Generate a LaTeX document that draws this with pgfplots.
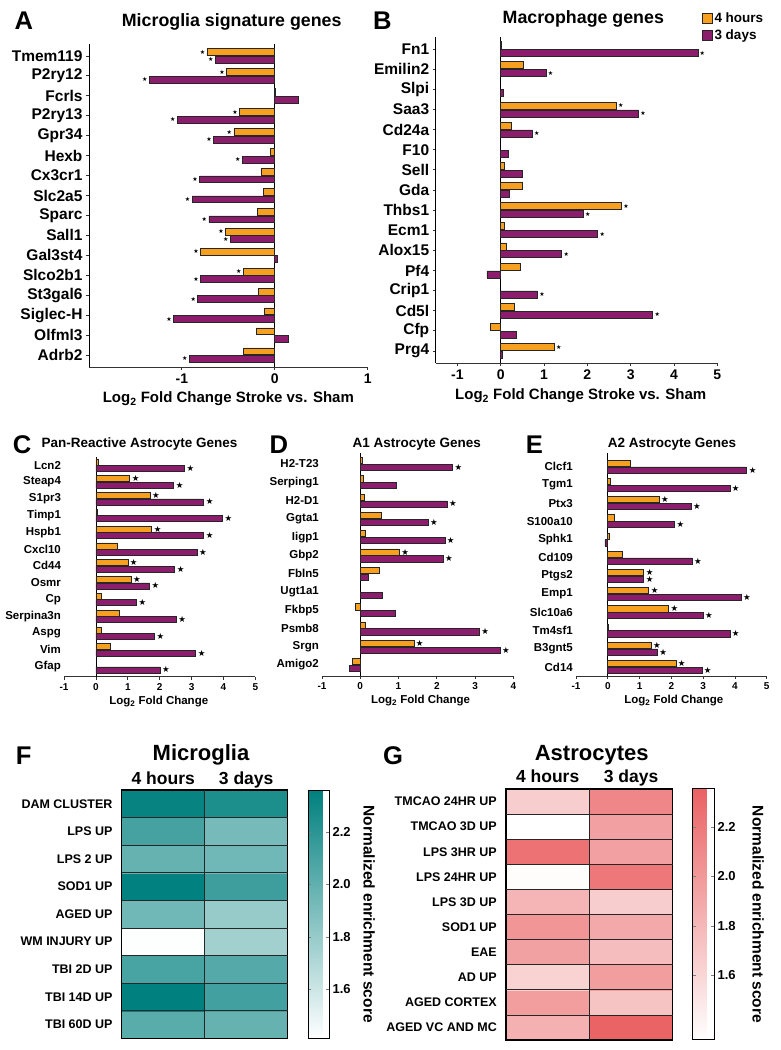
\documentclass[border=0pt]{standalone}
\usepackage{pgfplots}
\pgfplotsset{compat=1.18}
\usepackage{pgfplotstable}
\usepackage{fontspec}
\setmainfont{Liberation Sans}
\newfontfamily\dejavu{DejaVu Sans}
\definecolor{orng}{RGB}{247,160,32}
\definecolor{purp}{RGB}{140,28,108}
\newcommand{\fz}[1]{\fontsize{#1}{#1}\selectfont\bfseries}

% Panel A: Microglia signature genes (s = significance star)
\pgfplotstableread{
idx h4 d3 s4 s3
15 -0.73 -0.64 ★ ★
14 -0.52 -1.35 ★ ★
13 0.01 0.25 {} {}
12 -0.38 -1.05 ★ ★
11 -0.44 -0.66 ★ ★
10 -0.05 -0.35 {} ★
9 -0.15 -0.81 {} ★
8 -0.12 -0.89 {} ★
7 -0.19 -0.71 {} ★
6 -0.53 -0.48 ★ ★
5 -0.80 0.03 ★ {}
4 -0.34 -0.80 ★ ★
3 -0.18 -0.83 {} ★
2 -0.11 -1.09 {} ★
1 -0.20 0.14 {} {}
0 -0.34 -0.92 {} ★
}\tabA
% Panel B: Macrophage genes
\pgfplotstableread{
idx h4 d3 s4 s3
15 0.02 4.55 {} ★
14 0.53 1.05 {} ★
13 nan 0.05 {} {}
12 2.67 3.18 ★ ★
11 0.25 0.73 {} ★
10 nan 0.18 {} {}
9 0.08 0.50 {} {}
8 0.49 0.21 {} {}
7 2.79 1.91 ★ ★
6 0.09 2.24 {} ★
5 0.13 1.41 {} ★
4 0.46 -0.32 {} {}
3 nan 0.85 {} ★
2 0.32 3.51 {} ★
1 -0.23 0.35 {} {}
0 1.24 0.04 ★ {}
}\tabB
% Panel C: Pan-reactive astrocyte genes
\pgfplotstableread{
idx h4 d3 s4 s3
12 0.08 2.78 {} ★
11 1.06 2.44 ★ ★
10 1.70 3.38 ★ ★
9 0.04 3.97 {} ★
8 1.75 3.38 ★ ★
7 0.67 3.17 {} ★
6 1.00 2.47 ★ ★
5 1.10 1.68 ★ ★
4 0.17 1.27 {} ★
3 0.74 2.52 {} ★
2 0.16 1.84 {} ★
1 0.45 3.13 {} ★
0 nan 2.01 {} ★
}\tabC
% Panel D: A1 astrocyte genes
\pgfplotstableread{
idx h4 d3 s4 s3
11 0.06 2.41 {} ★
10 0.09 0.95 {} {}
9 0.10 2.27 {} ★
8 0.56 1.77 {} ★
7 0.12 2.21 {} ★
6 1.02 2.16 ★ ★
5 0.51 0.22 {} {}
4 nan 0.58 {} {}
3 -0.13 0.92 {} {}
2 0.12 3.11 {} ★
1 1.40 3.65 ★ ★
0 -0.20 -0.28 {} {}
}\tabD
% Panel E: A2 astrocyte genes
\pgfplotstableread{
idx h4 d3 s4 s3
11 0.72 4.37 {} ★
10 0.07 3.84 {} ★
9 1.61 2.62 ★ ★
8 0.22 2.10 {} ★
7 0.05 -0.09 {} {}
6 0.46 2.65 {} ★
5 1.13 1.13 ★ ★
4 1.29 4.19 ★ ★
3 1.91 3.00 ★ ★
2 0.03 3.84 {} ★
1 1.36 1.56 ★ ★
0 2.14 2.96 ★ ★
}\tabE
% Panel F: Microglia NES
\pgfplotstableread{
x y v
0 0 2.03
1 0 1.98
0 1 2.36
1 1 2.11
0 2 2.09
1 2 2.04
0 3 1.42
1 3 1.76
0 4 1.94
1 4 1.80
0 5 2.35
1 5 2.13
0 6 1.98
1 6 1.94
0 7 2.10
1 7 1.92
0 8 2.33
1 8 2.25
}\tabF
% Panel G: Astrocytes NES
\pgfplotstableread{
x y v
0 0 1.84
1 0 2.34
0 1 1.96
1 1 1.72
0 2 1.63
1 2 1.97
0 3 1.94
1 3 1.76
0 4 2.02
1 4 1.89
0 5 1.82
1 5 1.66
0 6 1.36
1 6 2.21
0 7 2.24
1 7 1.95
0 8 1.34
1 8 1.95
0 9 1.66
1 9 2.11
}\tabG

\pgfplotsset{
  /pgf/number format/assume math mode=true,
  barpanel/.style={
    scale only axis, anchor=south west, xbar, clip=false,
    axis x line*=bottom, axis y line*=left,
    axis line style={black!80, line width=0.8pt},
    every tick/.style={black!80, line width=0.8pt},
    tick align=outside, major tick length=3pt,
    unbounded coords=discard,
    extra x tick labels={},
    extra x tick style={grid=major, major grid style={black, line width=0.9pt}, major tick length=0pt},
  },
  h4/.style={fill=orng, draw=black!85, line width=0.6pt, bar shift=#1},
  d3/.style={fill=purp, draw=black!85, line width=0.6pt, bar shift=#1},
  starR/.style={point meta=explicit symbolic, nodes near coords,
     every node near coord/.append style={anchor=west}},
  starL/.style={point meta=explicit symbolic, nodes near coords,
     every node near coord/.append style={anchor=east}},
  heat/.style={
    scale only axis, anchor=south west,
    xmin=-0.5, xmax=1.5, xtick={0,1}, xticklabels={4 hours,3 days},
    xticklabel pos=top,
    major tick length=0pt,
    extra x ticks={0.5}, extra x tick labels={},
    extra x tick style={grid=major, major grid style={black!85, line width=0.7pt}},
    extra y tick labels={},
    extra y tick style={grid=major, major grid style={black!85, line width=0.7pt}},
    axis on top,
    axis line style={black, line width=1.2pt},
    xticklabel style={font=\fz{17.5}, anchor=base, inner sep=0pt, yshift=6pt},
    yticklabel style={font=\fz{12.5}, inner sep=0pt, xshift=-9pt},
    colorbar,
    colorbar shift/.style={xshift=20.6pt},
  },
  cbar/.style={
    at={(parent axis.north east)}, anchor=north west, scale only axis,
    ytick={1.6,1.8,2.0,2.2}, yticklabels={1.6,1.8,2.0,2.2},
    yticklabel style={font=\fz{13}},
    ylabel={Normalized enrichment score},
    ylabel style={font=\fz{15.5}, rotate=180},
    axis line style={black, line width=1pt},
    major tick length=3pt, tick align=inside, ytick pos=both, yticklabel pos=right,
  },
}

\begin{document}
\begin{tikzpicture}
\useasboundingbox (0,0) rectangle (781pt,1050pt);

% ---------- A ----------
\begin{axis}[barpanel, at={(89pt,683pt)}, width=278.7pt, height=323pt,
  xmin=-2, xmax=1, ymin=-0.6, ymax=15.6, xtick={-1,0,1}, ytick={0,...,15},
  extra x ticks={-2,0},
  yticklabels={Adrb2,Olfml3,Siglec-H,St3gal6,Slco2b1,Gal3st4,Sall1,Sparc,Slc2a5,Cx3cr1,Hexb,Gpr34,P2ry13,Fcrls,P2ry12,Tmem119},
  bar width=6.8pt,
  yticklabel style={font=\fz{15.5}},
  xticklabel style={font=\fz{14}},
  xlabel={Log\textsubscript{2} Fold Change Stroke vs. Sham},
  xlabel style={font=\fz{15}, at={(axis description cs:0.5,0)}, anchor=base, yshift=-36pt},
  every node near coord/.append style={font=\dejavu\fontsize{6}{6}\selectfont, text=black, inner sep=1.5pt},
]
\addplot[h4=3.8pt, starL] table[x=h4,y=idx,meta=s4]{\tabA};
\addplot[d3=-3.8pt, starL] table[x=d3,y=idx,meta=s3]{\tabA};
\end{axis}

% ---------- B ----------
\begin{axis}[barpanel, at={(435.7pt,687pt)}, width=281.6pt, height=326pt,
  xmin=-1.5, xmax=5, ymin=-0.6, ymax=15.6, xtick={-1,...,5}, ytick={0,...,15},
  extra x ticks={-1.5,0},
  yticklabels={Prg4,Cfp,Cd5l,Crip1,Pf4,Alox15,Ecm1,Thbs1,Gda,Sell,F10,Cd24a,Saa3,Slpi,Emilin2,Fn1},
  bar width=7pt,
  yticklabel style={font=\fz{15.5}},
  xticklabel style={font=\fz{14}},
  xlabel={Log\textsubscript{2} Fold Change Stroke vs. Sham},
  xlabel style={font=\fz{15}, at={(axis description cs:0.515,0)}, anchor=base, yshift=-37pt},
  every node near coord/.append style={font=\dejavu\fontsize{6}{6}\selectfont, text=black, inner sep=1.5pt},
  legend style={at={(0.9446,1.0807)}, anchor=north west, draw=none, fill=none, font=\fz{13.5}, inner sep=0pt, row sep=1.5pt, cells={anchor=west}},
  legend image code/.code={\draw[#1] (0pt,-5pt) rectangle (10pt,5pt);},
]
\addplot[h4=3.9pt, starR] table[x=h4,y=idx,meta=s4]{\tabB};
\addlegendentry{4 hours}
\addplot[d3=-3.9pt, starR] table[x=d3,y=idx,meta=s3]{\tabB};
\addlegendentry{3 days}
\end{axis}

% ---------- C ----------
\begin{axis}[barpanel, at={(64.1pt,373.3pt)}, width=191.2pt, height=220pt,
  xmin=-1, xmax=5, ymin=-0.6, ymax=12.5, xtick={-1,...,5}, ytick={0,...,12},
  extra x ticks={0},
  yticklabels={Gfap,Vim,Aspg,Serpina3n,Cp,Osmr,Cd44,Cxcl10,Hspb1,Timp1,S1pr3,Steap4,Lcn2},
  y axis line style={draw=none}, ytick style={draw=none},
  bar width=6pt,
  yticklabel style={font=\fz{11.5}, inner sep=0pt},
  xticklabel style={font=\fz{10}},
  xlabel={Log\textsubscript{2} Fold Change},
  xlabel style={font=\fz{11.5}, at={(axis description cs:0.495,0)}, anchor=base, yshift=-28.3pt},
  every node near coord/.append style={font=\dejavu\fontsize{8.5}{8.5}\selectfont, text=black, inner sep=1.8pt},
]
\addplot[h4=3.2pt, starR] table[x=h4,y=idx,meta=s4]{\tabC};
\addplot[d3=-3.2pt, starR] table[x=d3,y=idx,meta=s3]{\tabC};
\end{axis}

% ---------- D ----------
\begin{axis}[barpanel, at={(322pt,374pt)}, width=191.3pt, height=223pt,
  xmin=-1, xmax=4, ymin=-0.6, ymax=11.6, xtick={-1,...,4}, ytick={0,...,11},
  extra x ticks={0},
  yticklabels={Amigo2,Srgn,Psmb8,Fkbp5,Ugt1a1,Fbln5,Gbp2,Iigp1,Ggta1,H2-D1,Serping1,H2-T23},
  y axis line style={draw=none}, ytick style={draw=none},
  bar width=6.2pt,
  yticklabel style={font=\fz{11.5}, inner sep=0pt},
  xticklabel style={font=\fz{10}},
  xlabel={Log\textsubscript{2} Fold Change},
  xlabel style={font=\fz{11.5}, at={(axis description cs:0.515,0)}, anchor=base, yshift=-28pt},
  every node near coord/.append style={font=\dejavu\fontsize{8.5}{8.5}\selectfont, text=black, inner sep=1.8pt},
]
\addplot[h4=3.4pt, starR] table[x=h4,y=idx,meta=s4]{\tabD};
\addplot[d3=-3.4pt, starR] table[x=d3,y=idx,meta=s3]{\tabD};
\end{axis}

% ---------- E ----------
\begin{axis}[barpanel, at={(576pt,374pt)}, width=190.7pt, height=223pt,
  xmin=-1, xmax=5, ymin=-0.5, ymax=11.75, xtick={-1,...,5}, ytick={0,...,11},
  extra x ticks={0},
  yticklabels={Cd14,B3gnt5,Tm4sf1,Slc10a6,Emp1,Ptgs2,Cd109,Sphk1,S100a10,Ptx3,Tgm1,Clcf1},
  y axis line style={draw=none}, ytick style={draw=none},
  bar width=6.2pt,
  yticklabel style={font=\fz{11.5}, inner sep=0pt},
  xticklabel style={font=\fz{10}},
  xlabel={Log\textsubscript{2} Fold Change},
  xlabel style={font=\fz{11.5}, at={(axis description cs:0.513,0)}, anchor=base, yshift=-27.5pt},
  every node near coord/.append style={font=\dejavu\fontsize{8.5}{8.5}\selectfont, text=black, inner sep=1.8pt},
]
\addplot[h4=3.4pt, starR] table[x=h4,y=idx,meta=s4]{\tabE};
\addplot[d3=-3.4pt, starR] table[x=d3,y=idx,meta=s3]{\tabE};
\end{axis}

% ---------- F ----------
\begin{axis}[heat, at={(121.7pt,11.7pt)}, width=166pt, height=248.3pt,
  ymin=-0.5, ymax=8.5, ytick={0,...,8},
  yticklabels={TBI 60D UP,TBI 14D UP,TBI 2D UP,WM INJURY UP,AGED UP,SOD1 UP,LPS 2 UP,LPS UP,DAM CLUSTER},
  extra y ticks={0.5,1.5,...,7.5},
  colormap={tealmap}{rgb255=(255,255,255) rgb255=(0,128,126)},
  point meta min=1.411, point meta max=2.362,
  colorbar style={cbar, width=20.7pt, height=248.3pt, ylabel shift=6pt},
]
\addplot[matrix plot*, mesh/cols=2, point meta=explicit] table[x=x,y=y,meta=v]{\tabF};
\end{axis}

% ---------- G ----------
\begin{axis}[heat, at={(506pt,10pt)}, width=166.7pt, height=251pt,
  ymin=-0.5, ymax=9.5, ytick={0,...,9},
  yticklabels={AGED VC AND MC,AGED CORTEX,AD UP,EAE,SOD1 UP,LPS 3D UP,LPS 24HR UP,LPS 3HR UP,TMCAO 3D UP,TMCAO 24HR UP},
  extra y ticks={0.5,1.5,...,8.5},
  colormap={redmap}{rgb255=(255,255,255) rgb255=(234,98,100)},
  point meta min=1.34, point meta max=2.352,
  colorbar shift/.style={xshift=20pt},
  colorbar style={cbar, width=21.3pt, height=251pt, ylabel shift=10pt},
]
\addplot[matrix plot*, mesh/cols=2, point meta=explicit] table[x=x,y=y,meta=v]{\tabG};
\end{axis}

% ---------- letters and titles ----------
\tikzset{lett/.style={anchor=base west, inner sep=0pt, font=\fz{25.6}}}
\node[lett] at (14.5pt,1020pt) {A};
\node[lett] at (373pt,1020pt) {B};
\node[lett] at (12.7pt,596.5pt) {C};
\node[lett] at (269.3pt,596pt) {D};
\node[lett] at (525.7pt,596pt) {E};
\node[lett] at (15.7pt,285pt) {F};
\node[lett] at (383pt,285pt) {G};

\node[anchor=base, inner sep=0pt, font=\fz{17.8}] at (231.7pt,1023.3pt) {Microglia signature genes};
\node[anchor=base, inner sep=0pt, font=\fz{17.8}] at (583.3pt,1026.7pt) {Macrophage genes};
\node[anchor=base, inner sep=0pt, font=\fz{13.5}] at (139.5pt,602.7pt) {Pan-Reactive Astrocyte Genes};
\node[anchor=base, inner sep=0pt, font=\fz{13.5}] at (416.7pt,602.7pt) {A1 Astrocyte Genes};
\node[anchor=base, inner sep=0pt, font=\fz{13.5}] at (672pt,602.7pt) {A2 Astrocyte Genes};
\node[anchor=base, inner sep=0pt, font=\fz{22}] at (201pt,289.3pt) {Microglia};
\node[anchor=base, inner sep=0pt, font=\fz{22}] at (591.7pt,289.3pt) {Astrocytes};
\end{tikzpicture}
\end{document}
